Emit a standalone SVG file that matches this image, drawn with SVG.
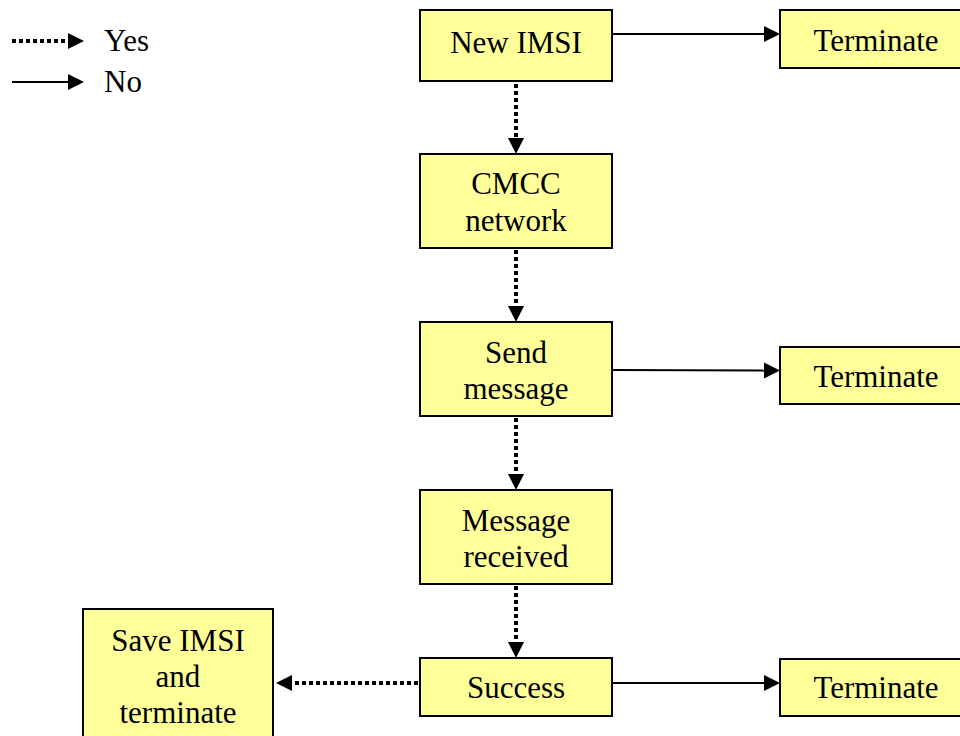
<svg xmlns="http://www.w3.org/2000/svg" width="960" height="736" viewBox="0 0 960 736">
<style>
.box{fill:#ffff99;stroke:#000;stroke-width:2}
text{font-family:"Liberation Serif","Times New Roman",serif;font-size:31px;fill:#000;text-anchor:middle}
.solid{stroke:#000;stroke-width:2;fill:none}
.dot{stroke:#000;stroke-width:4;stroke-dasharray:4 3;fill:none}
</style>
<rect width="960" height="736" fill="#fff"/>
<g id="legend">
<line class="dot" x1="12" y1="41" x2="68" y2="41"/>
<path d="M68,33 L84,41 L68,49 z" fill="#000"/>
<text x="104" y="51" style="text-anchor:start">Yes</text>
<line class="solid" x1="12" y1="82" x2="68" y2="82"/>
<path d="M68,74 L84,82 L68,90 z" fill="#000"/>
<text x="104" y="92" style="text-anchor:start">No</text>
</g>
<g id="connectors">
<line class="solid" x1="612" y1="34" x2="764" y2="34"/>
<path d="M764,26 L780,34 L764,42 z" fill="#000"/>
<line class="solid" x1="612" y1="370" x2="764" y2="370.5"/>
<path d="M764,362.5 L780,370.5 L764,378.5 z" fill="#000"/>
<line class="solid" x1="612" y1="683" x2="764" y2="683"/>
<path d="M764,675 L780,683 L764,691 z" fill="#000"/>
<line class="dot" x1="516" y1="84" x2="516" y2="138"/>
<path d="M508,138 L516,154 L524,138 z" fill="#000"/>
<line class="dot" x1="516" y1="250" x2="516" y2="306"/>
<path d="M508,306 L516,322 L524,306 z" fill="#000"/>
<line class="dot" x1="516" y1="418" x2="516" y2="474"/>
<path d="M508,474 L516,490 L524,474 z" fill="#000"/>
<line class="dot" x1="516" y1="586" x2="516" y2="642"/>
<path d="M508,642 L516,658 L524,642 z" fill="#000"/>
<line class="dot" x1="418" y1="683" x2="292" y2="683"/>
<path d="M292,675 L276,683 L292,691 z" fill="#000"/>
</g>
<g id="new-imsi">
<rect class="box" x="420" y="10" width="192" height="71"/>
<text x="516" y="53">New IMSI</text>
</g>
<g id="cmcc">
<rect class="box" x="420" y="154" width="192" height="94"/>
<text x="516" y="194">CMCC</text>
<text x="516" y="231">network</text>
</g>
<g id="send">
<rect class="box" x="420" y="322" width="192" height="94"/>
<text x="516" y="363">Send</text>
<text x="516" y="399">message</text>
</g>
<g id="received">
<rect class="box" x="420" y="490" width="192" height="94"/>
<text x="516" y="531">Message</text>
<text x="516" y="567">received</text>
</g>
<g id="success">
<rect class="box" x="420" y="658" width="192" height="58"/>
<text x="516" y="698">Success</text>
</g>
<g id="save">
<rect class="box" x="83" y="609" width="190" height="140"/>
<text x="178" y="651">Save IMSI</text>
<text x="178" y="687">and</text>
<text x="178" y="723">terminate</text>
</g>
<g id="term1">
<rect class="box" x="780" y="10" width="190" height="58"/>
<text x="876" y="51">Terminate</text>
</g>
<g id="term2">
<rect class="box" x="780" y="347" width="190" height="57"/>
<text x="876" y="387">Terminate</text>
</g>
<g id="term3">
<rect class="box" x="780" y="659" width="190" height="57"/>
<text x="876" y="698">Terminate</text>
</g>
</svg>
